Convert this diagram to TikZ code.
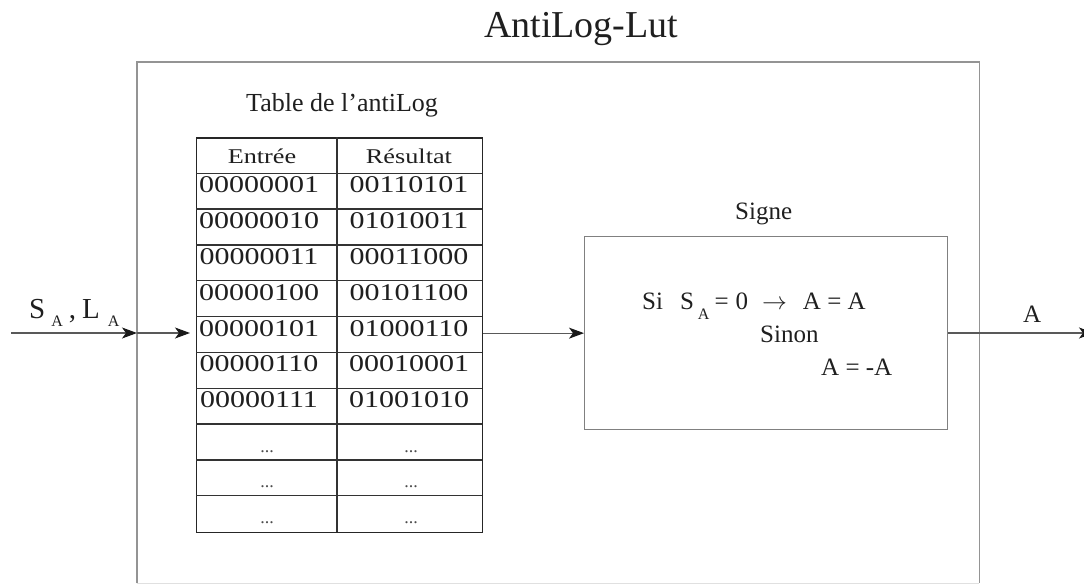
\documentclass[tikz,border=0pt]{standalone}
\usepackage{fontspec}
\setmainfont{Liberation Serif}
\usepackage{graphicx}
\usetikzlibrary{arrows.meta}

\newcommand{\fs}[1]{\fontsize{#1}{#1}\selectfont}
\newcommand{\wide}[1]{\scalebox{1.25}[1]{#1}}
\newcommand{\lowA}[2]{\raisebox{#1}{\fs{#2}A}}

\begin{document}
\begin{tikzpicture}[x=1pt,y=-1pt,
  frame/.style={draw=none, inner sep=0pt, minimum width=842pt, minimum height=521pt, anchor=north west},
  frameline/.style={draw=black!42, line width=1.4pt},
  faintline/.style={draw=black!12, line width=1.2pt},
  tablebox/.style={draw=black!85, line width=1.4pt, inner sep=0pt, minimum width=286pt, minimum height=394.4pt, anchor=north west},
  gridline/.style={draw=black!80, line width=1.3pt},
  signbox/.style={draw=black!50, line width=1.3pt, inner sep=0pt, minimum width=363pt, minimum height=193pt, anchor=north west},
  cell/.style={anchor=base, inner sep=0pt, text=black!88, font=\fs{24}},
  headcell/.style={anchor=base, inner sep=0pt, text=black!88, font=\fs{21}},
  dotcell/.style={anchor=base, inner sep=0pt, text=black!70, font=\fs{18}},
  label/.style={anchor=base west, inner sep=0pt, text=black!88},
  arr/.style={draw=black!65, line width=1.1pt, -{Stealth[length=15pt,width=11pt,inset=4pt,color=black!90]}}
]
\useasboundingbox (0,0) rectangle (1084,586);

% outer frame of the AntiLog-Lut block
\node[frame] (outer) at (137,62) {};
\draw[frameline] (outer.south west) -- (outer.north west) -- (outer.north east) -- (outer.south east);
\draw[faintline] (outer.south west) -- (outer.south east);
\node[label, font=\fs{38}] (title) at (484,38) {AntiLog-Lut};

% look-up table
\node[label, font=\fs{26}] (tabtitle) at (246,111) {Table de l'antiLog};
\node[tablebox] (tbl) at (196,137.3) {};
\foreach \k in {1,...,10}
  \draw[gridline] (196,{137.3+35.85*\k}) -- (482,{137.3+35.85*\k});
\draw[gridline] (337,137.3) -- (337,531.7);
\node[headcell] (hin) at (262,163) {\wide{Entrée}};
\node[headcell] (hout) at (409,163) {\wide{Résultat}};
\foreach \a/\b [count=\k] in {00000001/00110101, 00000010/01010011, 00000011/00011000,
    00000100/00101100, 00000101/01000110, 00000110/00010001, 00000111/01001010} {
  \node[cell] (in\k) at (259,{137.3+35.85*\k+19.5}) {\wide{\a}};
  \node[cell] (out\k) at (409,{137.3+35.85*\k+19.5}) {\wide{\b}};
}
\foreach \k in {8,9,10} {
  \node[dotcell] (din\k) at (267,{137.3+35.85*\k+28}) {...};
  \node[dotcell] (dout\k) at (411,{137.3+35.85*\k+28}) {...};
}

% sign block
\node[label, font=\fs{25}] (signtitle) at (735,219) {Signe};
\node[signbox] (sig) at (584,236) {};
\node[label, font=\fs{25}] (rule1) at (642,309)
  {Si\hspace{17pt}S\hspace{4pt}\lowA{-10pt}{16}\hspace{5pt}=\hspace{7pt}0\hspace{14pt}$\rightarrow$\hspace{16pt}A = A};
\node[label, font=\fs{25}] (rule2) at (760,342) {Sinon};
\node[label, font=\fs{25}] (rule3) at (821,375) {A = -A};

% input and output signals
\node[label, font=\fs{29}] (inlab) at (29,318)
  {S\hspace{6pt}\lowA{-8pt}{16}\hspace{6pt},\hspace{6pt}L\hspace{8pt}\lowA{-8pt}{16}};
\node[label, font=\fs{25}] (outlab) at (1023,322) {A};

\coordinate (src) at (11,333);
\coordinate (join) at (outer.west |- src);
\coordinate (dst) at (1094,333);

\draw[arr] (src) -- (join);
\draw[arr, shorten >=6pt] (join) -- (tbl.west |- src);
\draw[arr] (tbl.east |- sig.west) -- (sig.west);
\draw[arr] (sig.east |- dst) -- (dst);
\end{tikzpicture}
\end{document}
